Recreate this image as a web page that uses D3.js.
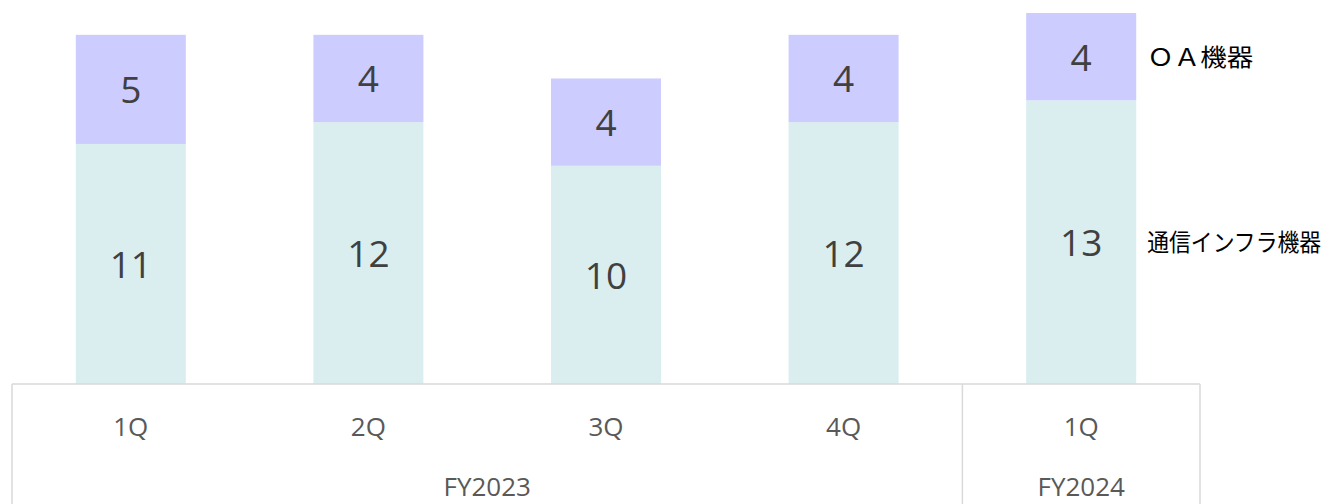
<!DOCTYPE html>
<html>
<head>
<meta charset="utf-8">
<script src="https://cdn.jsdelivr.net/npm/d3@7"></script>
<style>
  body { margin: 0; background: #fff; }
  svg { display: block; }
  .lbl { font-family: "Open Sans", sans-serif; }
  .legend { font-family: "Noto Sans CJK JP", sans-serif; }
</style>
</head>
<body>
<svg id="svg" width="1329" height="504"></svg>
<script>
var quarters = ["1Q", "2Q", "3Q", "4Q", "1Q"];
var fiscalYears = ["FY2023", "FY2023", "FY2023", "FY2023", "FY2024"];
var infra = [11, 12, 10, 12, 13];   // 通信インフラ機器
var oa = [5, 4, 4, 4, 4];           // ＯＡ機器
var seriesNames = ["通信インフラ機器", "ＯＡ機器"];
var colors = ["#daeef0", "#ccccff"];

var svg = d3.select("#svg");
var axisY = 384;

var data = quarters.map(function(q, i){
  return { idx: i, q: q, fy: fiscalYears[i], infra: infra[i], oa: oa[i] };
});

var x = d3.scaleBand()
  .domain(data.map(function(d){ return d.idx; }))
  .range([12, 1200])
  .paddingInner(0.537)
  .paddingOuter(0.2685);

var y = d3.scaleLinear().domain([0, 17]).range([axisY, 13]);

var stack = d3.stack().keys(["infra", "oa"]);
var series = stack(data);

var grp = svg.append("g");
grp.selectAll("g.series")
  .data(series)
  .enter()
  .append("g")
  .attr("class", "series")
  .attr("fill", function(d, i){ return colors[i]; })
  .selectAll("rect")
  .data(function(d){ return d; })
  .enter()
  .append("rect")
  .attr("x", function(d){ return x(d.data.idx); })
  .attr("y", function(d){ return y(d[1]); })
  .attr("width", x.bandwidth())
  .attr("height", function(d){ return y(d[0]) - y(d[1]); });

// value labels
series.forEach(function(s){
  grp.selectAll(null)
    .data(s)
    .enter()
    .append("text")
    .attr("class", "lbl")
    .attr("x", function(d){ return x(d.data.idx) + x.bandwidth() / 2; })
    .attr("y", function(d){ return (y(d[0]) + y(d[1])) / 2 + 14; })
    .attr("text-anchor", "middle")
    .attr("font-size", 37)
    .attr("fill", "#404040")
    .text(function(d){ return d[1] - d[0]; });
});

// category axis box
var step = x.step();
var x0 = x.range()[0], x1 = x.range()[1];
var lineColor = "#d9d9d9";
svg.append("line")
  .attr("x1", x0).attr("x2", x1)
  .attr("y1", axisY).attr("y2", axisY)
  .attr("stroke", lineColor).attr("stroke-width", 1.5);

var fyGroups = d3.groups(data, function(d){ return d.fy; });
var bounds = [x0];
fyGroups.forEach(function(g){
  var last = g[1][g[1].length - 1];
  bounds.push(x(last.idx) + x.bandwidth() + step * x.paddingInner() / 2);
});
bounds[bounds.length - 1] = x1;

svg.selectAll("line.div")
  .data(bounds)
  .enter()
  .append("line")
  .attr("class", "div")
  .attr("x1", function(d){ return d; }).attr("x2", function(d){ return d; })
  .attr("y1", axisY).attr("y2", 504)
  .attr("stroke", lineColor).attr("stroke-width", 1.5);

svg.selectAll("text.q")
  .data(data)
  .enter()
  .append("text")
  .attr("class", "lbl q")
  .attr("x", function(d){ return x(d.idx) + x.bandwidth() / 2; })
  .attr("y", 436)
  .attr("text-anchor", "middle")
  .attr("font-size", 26)
  .attr("fill", "#595959")
  .text(function(d){ return d.q; });

svg.selectAll("text.fy")
  .data(fyGroups)
  .enter()
  .append("text")
  .attr("class", "lbl fy")
  .attr("x", function(d, i){ return (bounds[i] + bounds[i + 1]) / 2; })
  .attr("y", 496)
  .attr("text-anchor", "middle")
  .attr("font-size", 26)
  .attr("fill", "#595959")
  .text(function(d){ return d[0]; });

// series names beside the last bar
var lastD = data[data.length - 1];
var legendX = x(lastD.idx) + x.bandwidth() + 11;
svg.selectAll("text.legend")
  .data(series)
  .enter()
  .append("text")
  .attr("class", "legend")
  .attr("x", legendX)
  .attr("y", function(d){ var p = d[d.length - 1]; return (y(p[0]) + y(p[1])) / 2 + 9; })
  .attr("font-size", 24)
  .attr("fill", "#000")
  .attr("textLength", function(d, i){ return i === 0 ? 174 : 106; })
  .attr("lengthAdjust", "spacingAndGlyphs")
  .text(function(d, i){ return seriesNames[i]; });
</script>
</body>
</html>
